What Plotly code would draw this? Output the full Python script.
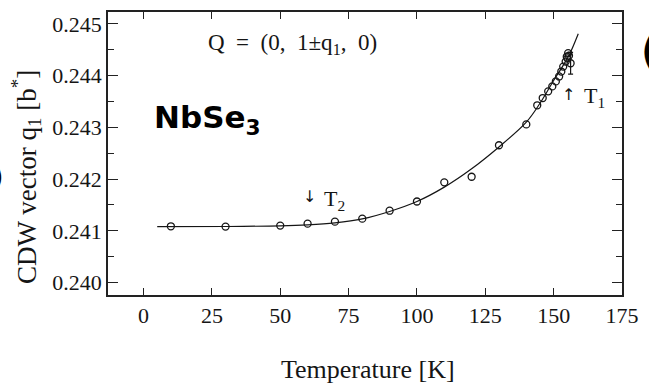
import plotly.graph_objects as go

# ---- data ----
temps = [10, 30, 50, 60, 70, 80, 90, 100, 110, 120, 130, 140, 144, 146, 148,
         149.5, 150.8, 152, 152.8, 153.5, 154.4, 155, 154.8, 155.6, 155.3]
q1 = [0.241088, 0.241082, 0.241101, 0.241139, 0.241178, 0.241235, 0.241389,
      0.241567, 0.241937, 0.242046, 0.242654, 0.243057, 0.243427, 0.243567,
      0.243696, 0.243792, 0.243888, 0.243984, 0.244079, 0.244175, 0.244271,
      0.244334, 0.244367, 0.244386, 0.244434]

err_T = [156.2]
err_q = [0.244239]
err_size = [0.00021]

fit_T = [5, 30, 50, 60, 70, 80, 90, 100, 110, 120, 130, 140, 145, 150, 153, 156, 159]
fit_q = [0.241080, 0.241084, 0.241097, 0.241116, 0.241155, 0.241231, 0.241375,
         0.241567, 0.241845, 0.242200, 0.242622, 0.243101, 0.243466, 0.243907,
         0.244156, 0.244434, 0.244808]

x_ticks = [0, 25, 50, 75, 100, 125, 150, 175]
y_ticks = [0.240, 0.241, 0.242, 0.243, 0.244, 0.245]
y_minor = [0.2405, 0.2415, 0.2425, 0.2435, 0.2445]

# ---- layout geometry ----
W, H = 649, 385
L, R, T, B = 108, 20, 10, 90
pw, ph = W - L - R, H - T - B
INK = "#151515"
SERIF = "Liberation Serif"


def px(x, y):
    return dict(x=(x - L) / pw, y=(H - B - y) / ph, xref="paper", yref="paper")


fig = go.Figure()
fig.add_trace(go.Scatter(
    x=fit_T, y=fit_q, mode="lines",
    line=dict(color=INK, width=1.2, shape="spline", smoothing=1.0),
    hoverinfo="skip", showlegend=False))
fig.add_trace(go.Scatter(
    x=temps, y=q1, mode="markers",
    marker=dict(symbol="circle-open", size=7, color=INK, line=dict(width=1.3)),
    showlegend=False))
fig.add_trace(go.Scatter(
    x=err_T, y=err_q, mode="markers",
    marker=dict(symbol="circle-open", size=7, color=INK, line=dict(width=1.3)),
    error_y=dict(type="data", array=err_size, color=INK, thickness=1.2, width=2.5),
    showlegend=False))

axis_common = dict(
    showline=True, linewidth=1.5, linecolor="#222", mirror="ticks",
    ticks="inside", tickcolor="#222", tickwidth=1.2,
    showgrid=False, zeroline=False,
    tickfont=dict(family=SERIF, size=22, color=INK),
)

fig.update_xaxes(range=[-13, 175], tickvals=x_ticks, ticklen=7, **axis_common)
fig.update_yaxes(range=[0.23976, 0.24523], tickvals=y_ticks, tickformat=".3f",
                 ticklen=10,
                 minor=dict(tickvals=y_minor, ticks="inside", ticklen=6,
                            tickcolor="#222", tickwidth=1.2, showgrid=False),
                 **axis_common)

nb = "\u00a0"
ARROW_FONT = "DejaVu Sans"
ann = [
    dict(text=f"Q{nb}{nb}={nb}{nb}(0,{nb}{nb}1±q<sub>1</sub>,{nb}{nb}0)",
         font=dict(family=SERIF, size=23, color=INK), **px(295, 42)),
    dict(text="<b>NbSe<sub>3</sub></b>",
         font=dict(family="DejaVu Sans", size=31, color="#000"), **px(209, 118)),
    dict(text="↑", font=dict(family=ARROW_FONT, size=16, color=INK), **px(575, 93)),
    dict(text="T<sub>1</sub>", font=dict(family=SERIF, size=22, color=INK), **px(601, 96)),
    dict(text="↓", font=dict(family=ARROW_FONT, size=16, color=INK), **px(312, 196)),
    dict(text="T<sub>2</sub>", font=dict(family=SERIF, size=22, color=INK), **px(338, 199)),
    dict(text="Temperature [K]", font=dict(family=SERIF, size=26, color=INK), **px(372, 370)),
    dict(text="CDW vector q<sub>1</sub> [b<sup>*</sup>]", textangle=-90,
         font=dict(family=SERIF, size=27, color=INK), **px(25, 176)),
    dict(text="<b>(</b>", font=dict(family="DejaVu Sans", size=40, color="#000"),
         xanchor="left", **px(646, 49)),
    dict(text="<b>)</b>", font=dict(family="DejaVu Sans", size=30, color="#000"),
         xanchor="right", **px(5, 176)),
]
for a in ann:
    a.setdefault("xanchor", "center")
    a.setdefault("yanchor", "middle")
    a["showarrow"] = False
fig.update_layout(annotations=ann)

fig.update_layout(
    width=W, height=H,
    margin=dict(l=L, r=R, t=T, b=B),
    paper_bgcolor="white", plot_bgcolor="white",
    showlegend=False,
)

fig.write_html(
    "out.html",
    config={"displayModeBar": False},
    post_script="document.body.style.margin='0px';document.body.style.overflow='hidden';",
)
